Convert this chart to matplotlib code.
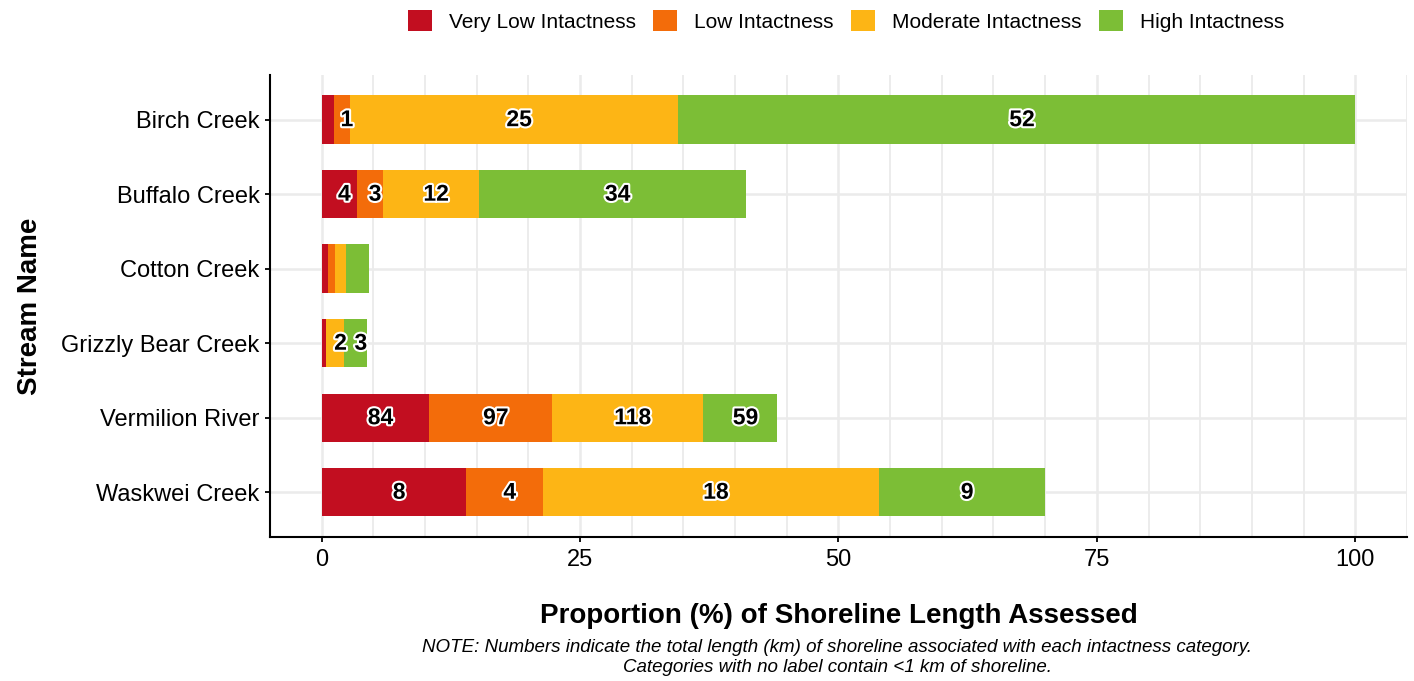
import matplotlib.pyplot as plt
import matplotlib.patheffects as pe
from matplotlib.patches import Patch
from matplotlib.ticker import MultipleLocator
import numpy as np

plt.rcParams['font.family'] = ['Liberation Sans', 'DejaVu Sans']

# streams listed bottom -> top
streams = ["Waskwei Creek", "Vermilion River", "Grizzly Bear Creek",
           "Cotton Creek", "Buffalo Creek", "Birch Creek"]
categories = ["Very Low Intactness", "Low Intactness",
              "Moderate Intactness", "High Intactness"]
colors = ["#C20E20", "#F36C0A", "#FDB515", "#7CBE36"]

# proportion (%) of shoreline length per category
very_low = [14.0, 10.4, 0.4, 0.65, 3.4, 1.2]
low = [7.4, 11.9, 0.05, 0.6, 2.55, 1.5]
moderate = [32.5, 14.6, 1.75, 1.15, 9.25, 31.8]
high = [16.1, 7.2, 2.2, 2.2, 25.9, 65.5]

# length labels (km), "" = under 1 km
lab_very_low = ["8", "84", "", "", "4", ""]
lab_low = ["4", "97", "", "", "3", "1"]
lab_moderate = ["18", "118", "2", "", "12", "25"]
lab_high = ["9", "59", "3", "", "34", "52"]

values = [very_low, low, moderate, high]
labels = [lab_very_low, lab_low, lab_moderate, lab_high]

fig = plt.figure(figsize=(14.14, 6.81), dpi=100)
ax = fig.add_axes([0.1909, 0.2115, 0.8041, 0.6784])

y = np.arange(1, len(streams) + 1)
left = np.zeros(len(streams))
for vals, labs, col in zip(values, labels, colors):
    vals = np.array(vals)
    ax.barh(y, vals, left=left, height=0.65, color=col, zorder=2)
    for yi, l, v, t in zip(y, left, vals, labs):
        if t:
            ax.text(l + v / 2 + 0.5, yi, t, ha="center", va="center",
                    fontsize=16.5, fontweight="bold", color="black", zorder=3,
                    path_effects=[pe.withStroke(linewidth=3, foreground="white")])
    left += vals

ax.set_xlim(-5, 105)
ax.set_ylim(0.4, 6.6)
ax.set_yticks(y)
ax.set_yticklabels(streams, fontsize=17)
ax.xaxis.set_major_locator(MultipleLocator(25))
ax.xaxis.set_minor_locator(MultipleLocator(5))
ax.tick_params(axis="x", labelsize=17, length=3.5, width=1.3, pad=5)
ax.tick_params(axis="y", length=3.5, width=1.3, pad=4)
ax.tick_params(axis="x", which="minor", length=0)

ax.grid(True, which="major", color="#EBEBEB", linewidth=1.8, zorder=0)
ax.grid(True, which="minor", axis="x", color="#EBEBEB", linewidth=1.3, zorder=0)
ax.set_axisbelow(True)

for s in ["top", "right"]:
    ax.spines[s].set_visible(False)
for s in ["left", "bottom"]:
    ax.spines[s].set_linewidth(1.5)
    ax.spines[s].set_color("black")

ax.set_xlabel("Proportion (%) of Shoreline Length Assessed", fontsize=20,
              fontweight="bold", labelpad=23)
ax.set_ylabel("Stream Name", fontsize=20, fontweight="bold", labelpad=13)

fig.text(0.592, 1 - 647 / 681,
         "NOTE: Numbers indicate the total length (km) of shoreline associated with each intactness category.",
         ha="center", va="center", fontsize=13.5, style="italic")
fig.text(0.592, 1 - 667 / 681,
         "Categories with no label contain <1 km of shoreline.",
         ha="center", va="center", fontsize=13.5, style="italic")

handles = [Patch(facecolor=c, edgecolor="none") for c in colors]
fig.legend(handles, categories, ncol=4, loc="center",
           bbox_to_anchor=(846 / 1414, 1 - 21 / 681), frameon=False,
           fontsize=15, handlelength=1.15, handleheight=1.15,
           handletextpad=0.8, columnspacing=0.85)

fig.savefig("out.png", dpi=100)
